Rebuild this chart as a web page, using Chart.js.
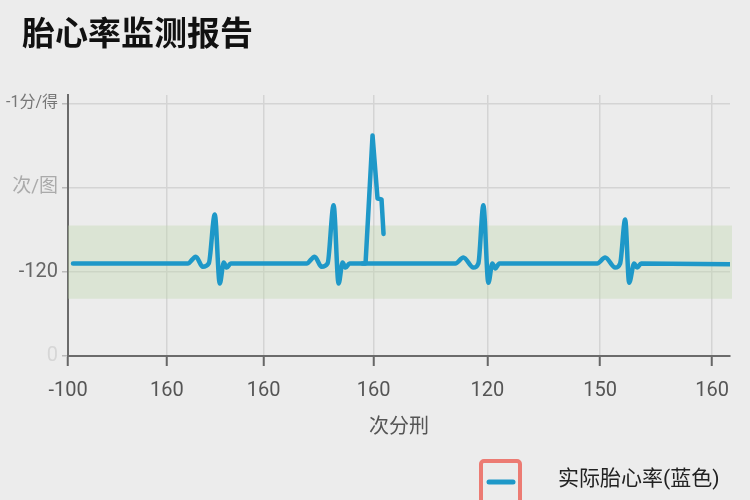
<!DOCTYPE html>
<html lang="zh">
<head>
<meta charset="utf-8">
<title>胎心率监测报告</title>
<script src="https://cdn.jsdelivr.net/npm/chart.js@4.4.1/dist/chart.umd.min.js"></script>
<style>
  html, body { margin: 0; padding: 0; background: #ececec; }
  #wrap { width: 750px; height: 500px; }
</style>
</head>
<body>
<div id="wrap"><canvas id="fhrChart" width="750" height="500"></canvas></div>
<script>
/* ── 数据 ── */
const chartTitle  = '胎心率监测报告';
const xTitle      = '次分刑';
const seriesLabel = '实际胎心率(蓝色)';

const xTickPos    = [0, 9.9, 19.6, 30.6, 42.0, 53.3, 64.5];
const xTickLabels = ['-100', '160', '160', '160', '120', '150', '160'];
const yTickPos    = [0, 1, 2, 3];
const yTickLabels = ['0', '-120', '次/图', '-1分/得'];

const heartX = [
  0.5,
  12.0, 12.8, 13.5, 14.1, 14.7, 15.2, 15.6, 15.9, 16.3,
  23.9, 24.7, 25.4, 26.0, 26.6, 27.1, 27.5, 27.8, 28.2,
  38.8, 39.6, 40.6, 41.1, 41.6, 42.1, 42.5, 42.8, 43.2,
  53.0, 53.8, 54.8, 55.3, 55.8, 56.2, 56.7, 57.0, 57.4,
  66.3,
];
const heartY = [
  1.10,
  1.10, 1.18, 1.06, 1.10, 1.68, 0.86, 1.11, 1.05, 1.10,
  1.10, 1.18, 1.06, 1.10, 1.79, 0.86, 1.11, 1.05, 1.10,
  1.10, 1.17, 1.05, 1.10, 1.79, 0.87, 1.10, 1.04, 1.10,
  1.10, 1.17, 1.05, 1.10, 1.62, 0.87, 1.10, 1.05, 1.10,
  1.09,
];

/* 突起的那一段 */
const spikeX = [29.5, 29.8, 30.5, 31.0, 31.4, 31.6];
const spikeY = [1.10, 1.10, 2.62, 1.87, 1.86, 1.45];

/* 正常范围带 */
const bandRange = [0.68, 1.55];

/* ── 样式 ── */
const lineColor = '#1e98c8';
const fontFam   = 'Roboto, "Noto Sans CJK SC", sans-serif';

const toPts = (xs, ys) => xs.map((x, i) => ({ x, y: ys[i] }));

/* 背景 */
const bgPlugin = {
  id: 'bg',
  beforeDraw(chart) {
    const { ctx, width, height } = chart;
    ctx.save();
    ctx.fillStyle = '#ececec';
    ctx.fillRect(0, 0, width, height);
    ctx.restore();
  },
};

/* 正常范围带 */
const bandPlugin = {
  id: 'band',
  beforeDatasetsDraw(chart) {
    const { ctx, chartArea, scales: { y } } = chart;
    const top = y.getPixelForValue(bandRange[1]);
    const bot = y.getPixelForValue(bandRange[0]);
    ctx.save();
    ctx.fillStyle = 'rgba(190,215,170,0.35)';
    ctx.fillRect(chartArea.left, top, chartArea.right - chartArea.left + 2, bot - top);
    ctx.restore();
  },
};

/* 标题 + 图例（左上标题、右下带框图例） */
const textPlugin = {
  id: 'texts',
  afterDraw(chart) {
    const { ctx, width, height } = chart;
    ctx.save();
    ctx.textBaseline = 'middle';
    ctx.textAlign = 'left';
    ctx.fillStyle = '#111';
    ctx.font = `bold 33px ${fontFam}`;
    ctx.fillText(chartTitle, 22, 37);

    const bx = width - 269, by = height - 39;
    ctx.strokeStyle = '#ec7b73';
    ctx.lineWidth = 4;
    ctx.beginPath();
    ctx.roundRect(bx, by, 39, 48, 3);
    ctx.stroke();
    ctx.strokeStyle = lineColor;
    ctx.lineWidth = 5;
    ctx.lineCap = 'round';
    ctx.beginPath();
    ctx.moveTo(bx + 8, by + 21);
    ctx.lineTo(bx + 32, by + 21);
    ctx.stroke();

    ctx.fillStyle = '#222';
    ctx.font = `21px ${fontFam}`;
    ctx.fillText(seriesLabel, width - 192, height - 20);
    ctx.restore();
  },
};

const yColors = ['#d6d6d6', '#666', '#aaa', '#777'];
const ySizes  = [20, 20, 19, 16];

new Chart(document.getElementById('fhrChart'), {
  type: 'line',
  data: {
    datasets: [
      {
        label: seriesLabel,
        data: toPts(heartX, heartY),
        borderColor: lineColor,
        borderWidth: 4.5,
        pointRadius: 0,
        cubicInterpolationMode: 'monotone',
        borderCapStyle: 'round',
        borderJoinStyle: 'round',
      },
      {
        label: seriesLabel,
        data: toPts(spikeX, spikeY),
        borderColor: lineColor,
        borderWidth: 4.5,
        pointRadius: 0,
        borderCapStyle: 'round',
        borderJoinStyle: 'round',
      },
    ],
  },
  options: {
    responsive: false,
    animation: false,
    layout: { padding: { left: 0, right: 20, top: 95, bottom: 60 } },
    plugins: {
      tooltip: { enabled: false },
      title: { display: false },
      legend: { display: false },
    },
    scales: {
      x: {
        type: 'linear',
        min: 0,
        max: 66.3,
        afterBuildTicks: s => { s.ticks = xTickPos.map(v => ({ value: v })); },
        ticks: {
          callback: (v, i) => xTickLabels[i],
          color: '#555',
          font: { family: fontFam, size: 20 },
          padding: 13,
          maxRotation: 0,
          autoSkip: false,
        },
        grid: { color: '#d4d4d4', lineWidth: 1.5, tickLength: 10, tickColor: '#666', tickWidth: 2 },
        border: { color: '#6b6b6b', width: 2 },
        title: {
          display: true,
          text: xTitle,
          color: '#555',
          font: { family: fontFam, size: 20 },
          padding: { top: 0, bottom: 0 },
        },
      },
      y: {
        min: 0,
        max: 3.1,
        afterBuildTicks: s => { s.ticks = yTickPos.map(v => ({ value: v })); },
        afterFit: s => { s.width = 68; },
        ticks: {
          callback: (v, i) => yTickLabels[i],
          color: ctx => yColors[ctx.index] || '#666',
          font: ctx => ({ family: fontFam, size: ySizes[ctx.index] || 20 }),
          padding: 4,
        },
        grid: { color: '#d4d4d4', lineWidth: 1.5, tickLength: 6, tickColor: '#bbb' },
        border: { color: '#6b6b6b', width: 2 },
      },
    },
  },
  plugins: [bgPlugin, bandPlugin, textPlugin],
});
</script>
</body>
</html>
